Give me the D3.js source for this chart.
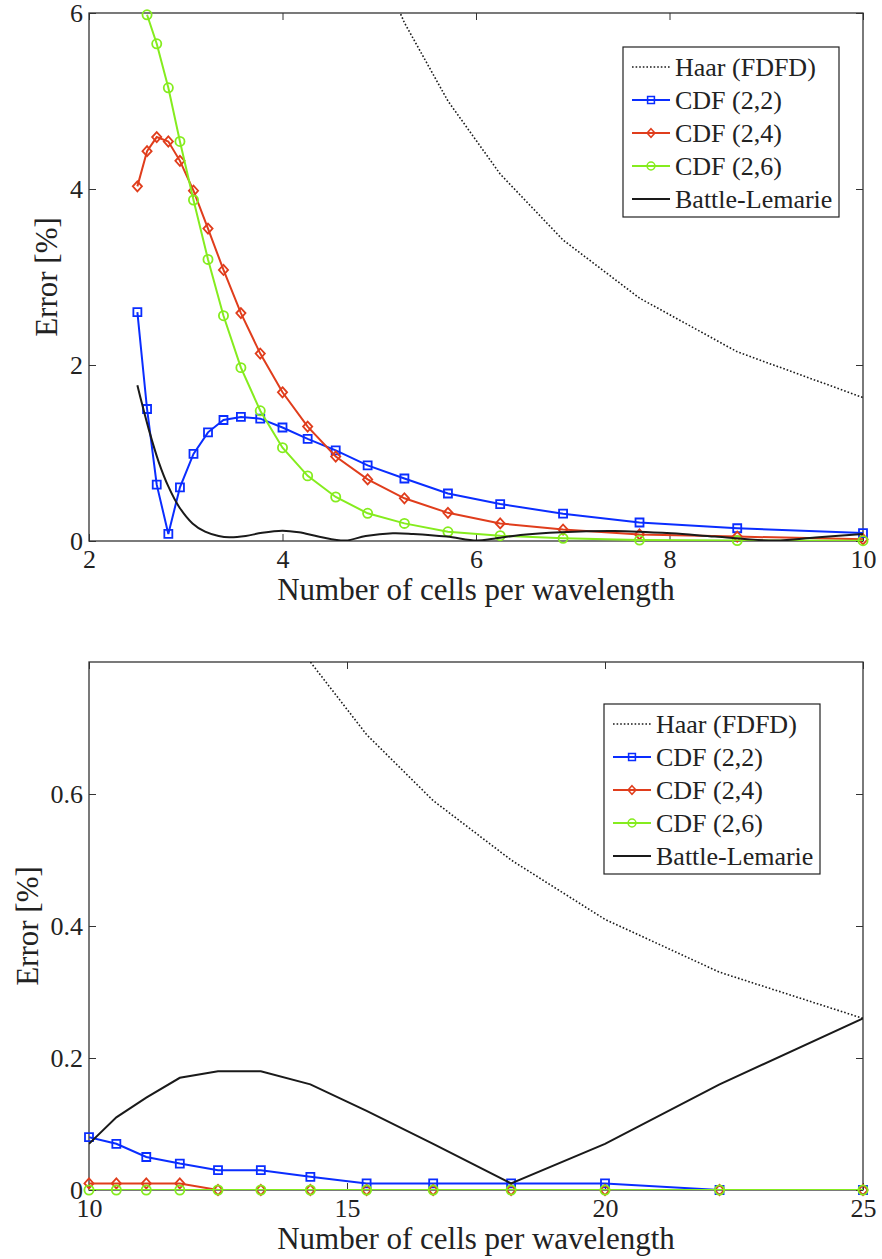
<!DOCTYPE html>
<html>
<head>
<meta charset="utf-8">
<script src="https://cdn.jsdelivr.net/npm/d3@7"></script>
<style>
body { margin: 0; background: #fff; }
</style>
</head>
<body>
<svg id="chart" width="882" height="1259"></svg>
<script>
// ---- data: upper panel (2..10 cells per wavelength) ----
const topN = [2.5, 2.6, 2.7, 2.82, 2.94, 3.08, 3.23, 3.39, 3.57, 3.77, 4.0, 4.26, 4.55, 4.88, 5.26, 5.71, 6.25, 6.9, 7.69, 8.7, 10];
const topHaar = [null, null, null, null, null, null, null, null, null, null, null, null, null, 6.85, 5.89, 5.0, 4.17, 3.42, 2.76, 2.15, 1.63];
const topCdf22 = [2.6, 1.5, 0.64, 0.08, 0.61, 0.99, 1.235, 1.375, 1.41, 1.39, 1.29, 1.16, 1.03, 0.86, 0.71, 0.54, 0.42, 0.31, 0.21, 0.145, 0.09];
const topCdf24 = [4.03, 4.43, 4.59, 4.54, 4.32, 3.98, 3.55, 3.08, 2.59, 2.13, 1.69, 1.3, 0.96, 0.7, 0.485, 0.32, 0.2, 0.13, 0.075, 0.05, 0.02];
const topCdf26 = [null, 5.98, 5.65, 5.15, 4.54, 3.875, 3.2, 2.56, 1.97, 1.48, 1.06, 0.74, 0.5, 0.315, 0.2, 0.105, 0.06, 0.03, 0.01, 0.005, 0.003];
const topBlN = [2.5, 2.55, 2.62, 2.72, 2.82, 2.93, 3.07, 3.2, 3.34, 3.45, 3.62, 3.79, 4.0, 4.17, 4.38, 4.65, 4.86, 5.14, 5.35, 5.7, 6.01, 6.18, 6.46, 6.88, 7.43, 8.02, 8.47, 9.09, 9.51, 10];
const topBl = [1.77, 1.55, 1.26, 0.9, 0.62, 0.39, 0.2, 0.106, 0.057, 0.042, 0.057, 0.094, 0.117, 0.099, 0.049, 0.005, 0.057, 0.088, 0.08, 0.05, 0.005, 0.026, 0.068, 0.1, 0.114, 0.087, 0.05, 0.005, 0.04, 0.08];
const topXTicks = [2, 4, 6, 8, 10];
const topYTicks = [0, 2, 4, 6];

// ---- data: lower panel (10..25 cells per wavelength) ----
const botN = [10, 10.53, 11.11, 11.76, 12.5, 13.33, 14.29, 15.38, 16.67, 18.18, 20, 22.22, 25];
const botHaar = [null, null, null, null, 1.04, 0.92, 0.8, 0.69, 0.59, 0.5, 0.41, 0.33, 0.26];
const botCdf22 = [0.08, 0.07, 0.05, 0.04, 0.03, 0.03, 0.02, 0.01, 0.01, 0.01, 0.01, 0, 0];
const botCdf24 = [0.01, 0.01, 0.01, 0.01, 0, 0, 0, 0, 0, 0, 0, 0, 0];
const botCdf26 = [0, 0, 0, 0, 0, 0, 0, 0, 0, 0, 0, 0, 0];
const botBl = [0.07, 0.11, 0.14, 0.17, 0.18, 0.18, 0.16, 0.12, 0.07, 0.01, 0.07, 0.16, 0.26];
const botXTicks = [10, 15, 20, 25];
const botYTicks = [0, 0.2, 0.4, 0.6];

const legendNames = ["Haar (FDFD)", "CDF (2,2)", "CDF (2,4)", "CDF (2,6)", "Battle-Lemarie"];
const blue = "#0a2dff", red = "#e03d1c", green = "#85ec1e", black = "#1a1a1a";
const serif = "'Liberation Serif', 'Times New Roman', Times, 'DejaVu Serif', serif";

const svg = d3.select("#chart");
const left = 89, right = 863;

function diamond(r) {
  const p = d3.path();
  p.moveTo(0, -r * 1.1); p.lineTo(r, 0); p.lineTo(0, r * 1.1); p.lineTo(-r, 0); p.closePath();
  return p.toString();
}
const markerPath = {
  square: d3.symbol().type(d3.symbolSquare).size(64)(),
  circle: d3.symbol().type(d3.symbolCircle).size(66)(),
  diamond: diamond(4.6)
};

function panel(o) {
  const x = d3.scaleLinear().domain(o.xDomain).range([left, right]);
  const y = d3.scaleLinear().domain(o.yDomain).range([o.bottom, o.top]);
  const g = svg.append("g");

  g.append("clipPath").attr("id", "clip" + o.id).append("rect")
    .attr("x", left).attr("y", o.top).attr("width", right - left).attr("height", o.bottom - o.top);

  // axes, ticks pointing inward like MATLAB
  g.append("g").attr("transform", `translate(0,${o.bottom})`)
    .call(d3.axisBottom(x).tickValues(o.xTicks).tickSize(-7).tickSizeOuter(0).tickPadding(9).tickFormat(d3.format("d")));
  g.append("g").attr("transform", `translate(0,${o.top})`)
    .call(d3.axisTop(x).tickValues(o.xTicks).tickSize(-7).tickSizeOuter(0).tickFormat(""));
  g.append("g").attr("transform", `translate(${left},0)`)
    .call(d3.axisLeft(y).tickValues(o.yTicks).tickSize(-7).tickSizeOuter(0).tickPadding(6).tickFormat(o.yFormat));
  g.append("g").attr("transform", `translate(${right},0)`)
    .call(d3.axisRight(y).tickValues(o.yTicks).tickSize(-7).tickSizeOuter(0).tickFormat(""));
  g.selectAll(".domain").remove();
  g.selectAll(".tick line").attr("stroke", "#333").attr("stroke-width", 1);
  g.selectAll("g").attr("font-family", serif).attr("font-size", 26);
  g.selectAll(".tick text").attr("fill", "#222");

  g.append("rect").attr("x", left).attr("y", o.top)
    .attr("width", right - left).attr("height", o.bottom - o.top)
    .attr("fill", "none").attr("stroke", "#333").attr("stroke-width", 1.3);

  // series
  o.series.forEach(s => {
    const pts = s.xs.map((n, i) => [n, s.ys[i]]);
    const line = d3.line().defined(d => d[1] != null)
      .x(d => x(d[0])).y(d => y(d[1]))
      .curve(s.smooth ? d3.curveCatmullRom : d3.curveLinear);
    g.append("path").datum(pts)
      .attr("clip-path", `url(#clip${o.id})`)
      .attr("d", line)
      .attr("fill", "none")
      .attr("stroke", s.color)
      .attr("stroke-width", s.dash ? 1.6 : 2)
      .attr("stroke-dasharray", s.dash || null);
    if (s.marker) {
      g.selectAll(null).data(pts.filter(d => d[1] != null)).enter().append("path")
        .attr("d", markerPath[s.marker])
        .attr("transform", d => `translate(${x(d[0])},${y(d[1])})`)
        .attr("fill", "none").attr("stroke", s.color).attr("stroke-width", 1.8);
    }
  });

  // labels
  g.append("text").attr("x", (left + right) / 2).attr("y", o.bottom + 59)
    .attr("text-anchor", "middle").attr("font-family", serif).attr("font-size", 31).attr("fill", "#222")
    .text("Number of cells per wavelength");
  g.append("text").attr("transform", `translate(${o.yLabelX},${(o.top + o.bottom) / 2}) rotate(-90)`)
    .attr("text-anchor", "middle").attr("font-family", serif).attr("font-size", 31).attr("fill", "#222")
    .text("Error [%]");

  // legend
  const lg = g.append("g").attr("transform", `translate(${o.legendX},${o.legendY})`);
  lg.append("rect").attr("width", 216).attr("height", 170)
    .attr("fill", "#fff").attr("stroke", "#222").attr("stroke-width", 1.2);
  o.series.forEach((s, i) => {
    const yy = 20 + i * 33;
    lg.append("line").attr("x1", 9).attr("x2", 47).attr("y1", yy).attr("y2", yy)
      .attr("stroke", s.color).attr("stroke-width", s.dash ? 1.6 : 2)
      .attr("stroke-dasharray", s.dash || null);
    if (s.marker) {
      lg.append("path").attr("d", markerPath[s.marker])
        .attr("transform", `translate(28,${yy}) scale(0.85)`)
        .attr("fill", "none").attr("stroke", s.color).attr("stroke-width", 1.8);
    }
    lg.append("text").attr("x", 52).attr("y", yy + 9)
      .attr("font-family", serif).attr("font-size", 26).attr("fill", "#222")
      .text(legendNames[i]);
  });
}

panel({
  id: "top", top: 13, bottom: 541, xDomain: [2, 10], yDomain: [0, 6],
  xTicks: topXTicks, yTicks: topYTicks, yFormat: d3.format("d"), yLabelX: 57,
  legendX: 623, legendY: 47,
  series: [
    { xs: topN, ys: topHaar, color: black, dash: "1.6,2" },
    { xs: topN, ys: topCdf22, color: blue, marker: "square" },
    { xs: topN, ys: topCdf24, color: red, marker: "diamond" },
    { xs: topN, ys: topCdf26, color: green, marker: "circle" },
    { xs: topBlN, ys: topBl, color: black, smooth: true }
  ]
});

panel({
  id: "bot", top: 662, bottom: 1190, xDomain: [10, 25], yDomain: [0, 0.8],
  xTicks: botXTicks, yTicks: botYTicks, yFormat: d => d === 0 ? "0" : d3.format(".1f")(d), yLabelX: 38,
  legendX: 604, legendY: 704,
  series: [
    { xs: botN, ys: botHaar, color: black, dash: "1.6,2" },
    { xs: botN, ys: botCdf22, color: blue, marker: "square" },
    { xs: botN, ys: botCdf24, color: red, marker: "diamond" },
    { xs: botN, ys: botCdf26, color: green, marker: "circle" },
    { xs: botN, ys: botBl, color: black }
  ]
});
</script>
</body>
</html>
